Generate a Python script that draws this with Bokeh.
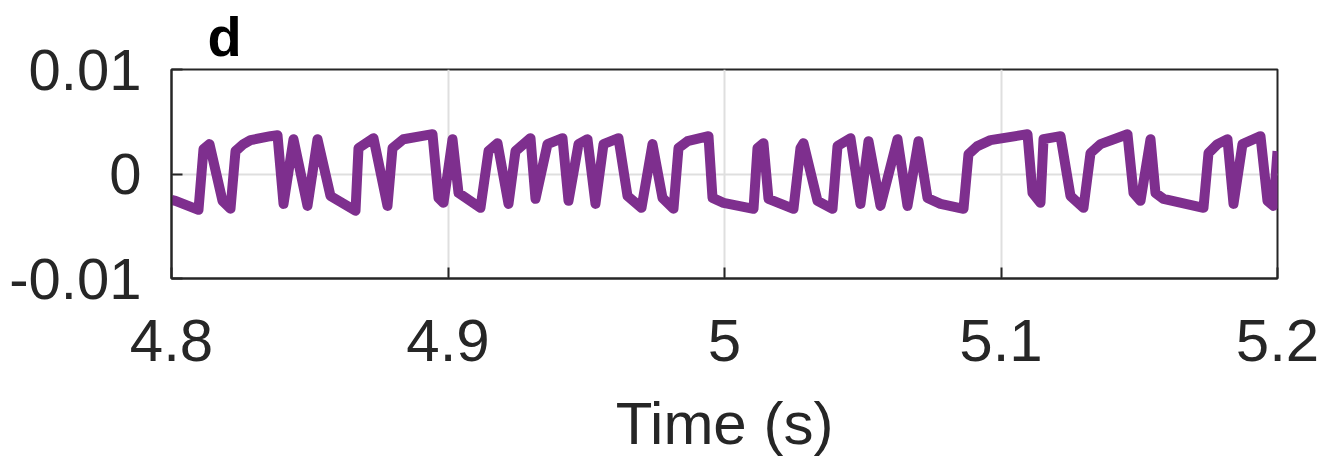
from bokeh.plotting import figure
from bokeh.models import Range1d, FixedTicker
from bokeh.embed import file_html
from bokeh.resources import INLINE

# Signal vertices (time in s, amplitude)
time_s = [4.80000, 4.80145, 4.80976, 4.81157, 4.81374, 4.81845, 4.82134, 4.82315, 4.82604, 4.82857,
          4.83580, 4.83834, 4.84051, 4.84412, 4.84919, 4.85280, 4.85750, 4.86655, 4.86763, 4.87306,
          4.87812, 4.87993, 4.88391, 4.89439, 4.89656, 4.89837, 4.90163, 4.90380, 4.91175, 4.91465,
          4.91790, 4.92188, 4.92441, 4.92984, 4.93164, 4.93598, 4.94141, 4.94358, 4.94720, 4.95045,
          4.95334, 4.95624, 4.96166, 4.96492, 4.96998, 4.97396, 4.97757, 4.98155, 4.98336, 4.98662,
          4.99421, 4.99566, 4.99964, 5.01049, 5.01193, 5.01410, 5.01591, 5.02495, 5.02748, 5.02857,
          5.03363, 5.03906, 5.04087, 5.04557, 5.04918, 5.05208, 5.05642, 5.06257, 5.06618, 5.07016,
          5.07342, 5.07812, 5.08644, 5.08824, 5.09150, 5.09620, 5.10958, 5.11139, 5.11428, 5.11537,
          5.12152, 5.12513, 5.12983, 5.13237, 5.13598, 5.14575, 5.14792, 5.15045, 5.15407, 5.15587,
          5.15877, 5.17323, 5.17504, 5.17830, 5.18191, 5.18408, 5.18734, 5.19385, 5.19638, 5.19855,
          5.20000]
amplitude = [-0.00248, -0.00257, -0.00343, 0.00238, 0.00286, -0.00257, -0.00333, 0.00219, 0.00286, 0.00324,
             0.00362, 0.00371, -0.00286, 0.00333, -0.00305, 0.00333, -0.00210, -0.00352, 0.00248, 0.00343,
             -0.00305, 0.00248, 0.00333, 0.00381, -0.00229, -0.00276, 0.00333, -0.00181, -0.00324, 0.00219,
             0.00295, -0.00286, 0.00219, 0.00343, -0.00238, 0.00286, 0.00343, -0.00257, 0.00286, 0.00333,
             -0.00286, 0.00286, 0.00343, -0.00210, -0.00324, 0.00286, -0.00229, -0.00333, 0.00248, 0.00314,
             0.00362, -0.00229, -0.00276, -0.00333, 0.00248, 0.00295, -0.00238, -0.00333, 0.00248, 0.00295,
             -0.00257, -0.00333, 0.00267, 0.00343, -0.00286, 0.00314, -0.00305, 0.00333, -0.00305, 0.00314,
             -0.00229, -0.00286, -0.00333, 0.00190, 0.00267, 0.00324, 0.00381, -0.00181, -0.00276, 0.00333,
             0.00362, -0.00210, -0.00324, 0.00200, 0.00286, 0.00381, -0.00181, -0.00257, 0.00333, -0.00181,
             -0.00238, -0.00324, 0.00200, 0.00286, 0.00333, -0.00286, 0.00286, 0.00362, -0.00257, -0.00305,
             0.00219]

x_ticks = [4.8, 4.9, 5.0, 5.1, 5.2]
x_tick_labels = ["4.8", "4.9", "5", "5.1", "5.2"]
y_ticks = [-0.01, 0.0, 0.01]
y_tick_labels = ["-0.01", "0", "0.01"]

FONT = "Liberation Sans"
TXT = "#262626"

p = figure(width=1323, height=461, output_backend="svg", toolbar_location=None,
           x_range=Range1d(4.8, 5.2), y_range=Range1d(-0.01, 0.01),
           min_border_left=171, min_border_right=46, min_border_top=68, min_border_bottom=183)

p.line(time_s, amplitude, line_color="#7E2F8E", line_width=10, line_join="round")

p.outline_line_color = TXT
p.outline_line_width = 2
p.background_fill_color = "white"
p.border_fill_color = "white"

p.title.text = "d"
p.title.align = "left"
p.title.offset = 36
p.title.standoff = 4
p.title.text_font = FONT
p.title.text_font_size = "56px"
p.title.text_font_style = "bold"
p.title.text_color = "black"

p.xaxis.ticker = FixedTicker(ticks=x_ticks)
p.yaxis.ticker = FixedTicker(ticks=y_ticks)
p.xaxis.major_label_overrides = {t: l for t, l in zip(x_ticks, x_tick_labels)}
p.yaxis.major_label_overrides = {t: l for t, l in zip(y_ticks, y_tick_labels)}

for ax in (p.xaxis[0], p.yaxis[0]):
    ax.axis_line_color = TXT
    ax.axis_line_width = 2
    ax.major_tick_line_color = TXT
    ax.major_tick_line_width = 2
    ax.major_tick_in = 11
    ax.major_tick_out = 0
    ax.minor_tick_line_color = None
    ax.major_label_text_font = FONT
    ax.major_label_text_color = TXT

p.yaxis.major_label_text_font_size = "58px"
p.xaxis.major_label_text_font_size = "60px"
p.xaxis.major_label_standoff = 41
p.yaxis.major_label_standoff = 30
p.xaxis.axis_label = "Time (s)"
p.xaxis.axis_label_text_font = FONT
p.xaxis.axis_label_text_font_size = "60px"
p.xaxis.axis_label_text_font_style = "normal"
p.xaxis.axis_label_text_color = TXT
p.xaxis.axis_label_standoff = 26

p.xgrid.ticker = FixedTicker(ticks=x_ticks)
p.ygrid.ticker = FixedTicker(ticks=y_ticks)
for g in (p.xgrid[0], p.ygrid[0]):
    g.grid_line_color = "#dfdfdf"
    g.grid_line_width = 2

open("out.html", "w").write(file_html(p, INLINE))
